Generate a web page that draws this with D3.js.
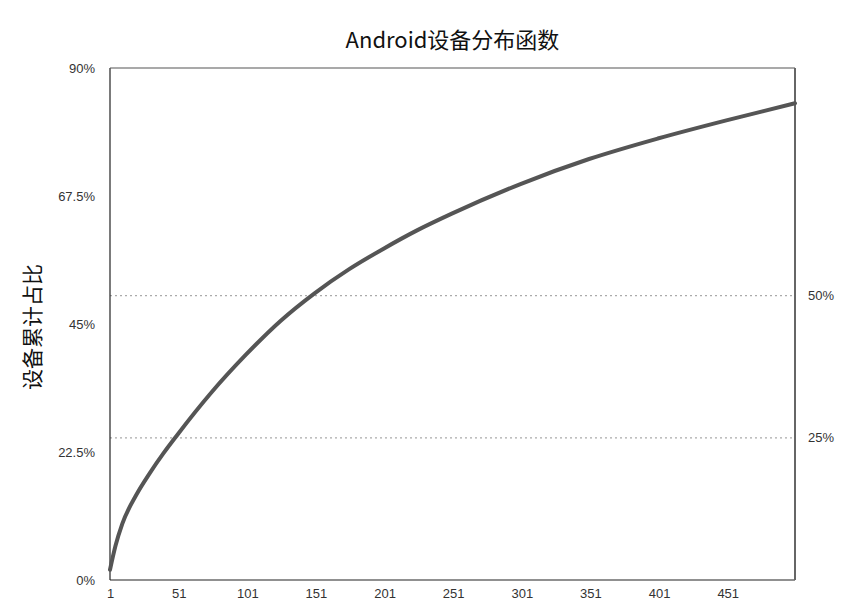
<!DOCTYPE html>
<html>
<head>
<meta charset="utf-8">
<script src="https://cdn.jsdelivr.net/npm/d3@7"></script>
<style>
  body { margin: 0; background: #fff; }
  text { font-family: "Noto Sans CJK SC", "Liberation Sans", sans-serif; }
</style>
</head>
<body>
<div id="chart"></div>
<script>
// rank of device model (x) and cumulative share in % (y)
var deviceRank = [1, 5, 10, 20, 30, 40, 50, 75, 100, 125, 150, 175, 200, 225, 250, 300, 350, 400, 450, 500];
var cumShare = [1.8, 6.0, 9.9, 14.9, 18.8, 22.3, 25.5, 33.0, 39.6, 45.5, 50.4, 54.6, 58.2, 61.5, 64.4, 69.6, 74.0, 77.6, 80.8, 83.8];
var xTicks = [1, 51, 101, 151, 201, 251, 301, 351, 401, 451];
var yTicks = [0, 22.5, 45, 67.5, 90];
var refLines = [25, 50];

(function(){
  var width = 851, height = 614;
  var margin = {top: 68, right: 56, bottom: 34, left: 110};
  var iw = width - margin.left - margin.right,
      ih = height - margin.top - margin.bottom;

  var svg = d3.select("#chart").append("svg")
    .attr("width", width)
    .attr("height", height);

  var g = svg.append("g")
    .attr("transform", "translate(" + margin.left + "," + margin.top + ")");

  var x = d3.scaleLinear().domain([1, 500]).range([0, iw]);
  var y = d3.scaleLinear().domain([0, 90]).range([ih, 0]);

  var data = deviceRank.map(function(d, i){ return {x: d, y: cumShare[i]}; });

  // reference lines
  g.selectAll(".ref")
    .data(refLines)
    .enter().append("line")
    .attr("class", "ref")
    .attr("x1", 0).attr("x2", iw)
    .attr("y1", function(d){ return y(d); })
    .attr("y2", function(d){ return y(d); })
    .attr("stroke", "#aaa")
    .attr("stroke-width", 1.2)
    .attr("stroke-dasharray", "2,3");

  g.selectAll(".ref-label")
    .data(refLines)
    .enter().append("text")
    .attr("class", "ref-label")
    .attr("x", iw + 13)
    .attr("y", function(d){ return y(d); })
    .attr("dy", "0.35em")
    .attr("fill", "#333")
    .style("font-size", "13px")
    .style("font-family", "'Liberation Sans', sans-serif")
    .text(function(d){ return d + "%"; });

  // axes
  var xAxis = d3.axisBottom(x).tickValues(xTicks).tickSize(0).tickPadding(9);
  var yAxis = d3.axisLeft(y).tickValues(yTicks).tickSize(0).tickPadding(15)
    .tickFormat(function(d){ return d + "%"; });

  var gx = g.append("g")
    .attr("transform", "translate(0," + ih + ")")
    .call(xAxis);
  var gy = g.append("g").call(yAxis);

  gx.select(".domain").remove();
  gy.select(".domain").remove();
  svg.selectAll(".tick text")
    .attr("fill", "#333")
    .style("font-size", "13px")
    .style("font-family", "'Liberation Sans', sans-serif");

  // frame
  g.append("line").attr("x1", 0).attr("x2", 0).attr("y1", 0).attr("y2", ih)
    .attr("stroke", "#222").attr("stroke-width", 1.2);
  g.append("line").attr("x1", 0).attr("x2", iw).attr("y1", ih).attr("y2", ih)
    .attr("stroke", "#222").attr("stroke-width", 1.2);
  g.append("line").attr("x1", 0).attr("x2", iw).attr("y1", 0).attr("y2", 0)
    .attr("stroke", "#555").attr("stroke-width", 1.2);
  g.append("line").attr("x1", iw).attr("x2", iw).attr("y1", 0).attr("y2", ih)
    .attr("stroke", "#666").attr("stroke-width", 2);

  // curve
  var line = d3.line()
    .x(function(d){ return x(d.x); })
    .y(function(d){ return y(d.y); })
    .curve(d3.curveMonotoneX);

  g.append("path")
    .datum(data)
    .attr("fill", "none")
    .attr("stroke", "#555")
    .attr("stroke-width", 4)
    .attr("stroke-linecap", "round")
    .attr("d", line);

  // titles
  svg.append("text")
    .attr("x", margin.left + iw / 2)
    .attr("y", 48)
    .attr("text-anchor", "middle")
    .attr("fill", "#111")
    .style("font-size", "22px")
    .text("Android设备分布函数");

  svg.append("text")
    .attr("transform", "translate(40," + (margin.top + ih / 2 + 3) + ") rotate(-90)")
    .attr("text-anchor", "middle")
    .attr("fill", "#111")
    .style("font-size", "21px")
    .text("设备累计占比");
})();
</script>
</body>
</html>
